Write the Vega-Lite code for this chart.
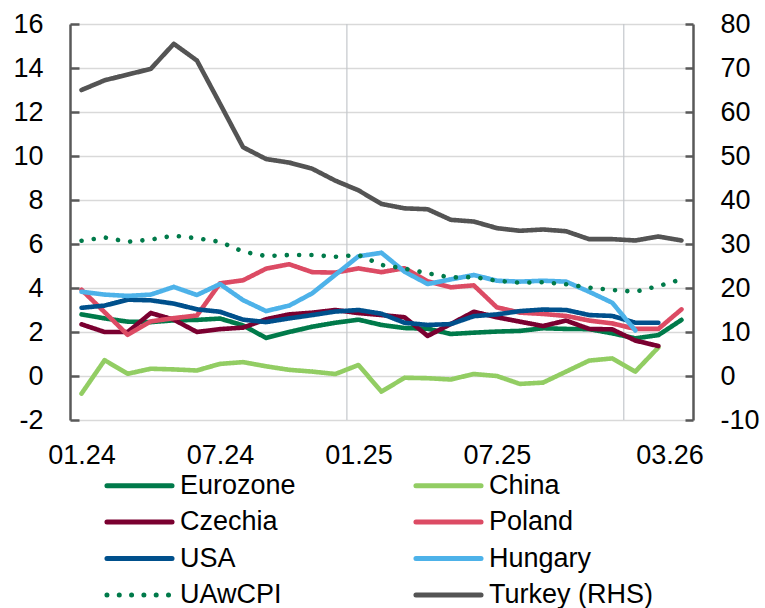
{
  "$schema": "https://vega.github.io/schema/vega-lite/v6.json",
  "autosize": "none",
  "width": 623,
  "height": 396,
  "padding": {"left": 70, "top": 24, "right": 72, "bottom": 188},
  "background": "white",
  "config": {
    "view": {"stroke": null},
    "font": "Liberation Sans",
    "axis": {"labelFont": "Liberation Sans", "labelFontSize": 27, "labelColor": "#000000", "title": null},
    "legend": {
      "orient": "none",
      "legendX": 56,
      "legendY": 448,
      "columns": 2,
      "columnPadding": 109,
      "rowPadding": 8.5,
      "padding": 0,
      "symbolType": "M-4.65,0H4.65",
      "symbolSize": 196,
      "symbolStrokeWidth": 5,
      "symbolOffset": 0,
      "labelOffset": 27,
      "labelFont": "Liberation Sans",
      "labelFontSize": 27,
      "labelColor": "#000000",
      "labelLimit": 400,
      "title": null
    }
  },
  "data": {
    "values": [
      {"i": 0, "month": "01.24", "Eurozone": 2.8, "China": -0.8, "Czechia": 2.35, "Poland": 3.92, "USA": 3.1, "Hungary": 3.83, "UAwCPI": 6.15, "Turkey (RHS)": 65.0},
      {"i": 1, "month": "02.24", "Eurozone": 2.62, "China": 0.72, "Czechia": 2.0, "Poland": 2.9, "USA": 3.2, "Hungary": 3.7, "UAwCPI": 6.3, "Turkey (RHS)": 67.2},
      {"i": 2, "month": "03.24", "Eurozone": 2.47, "China": 0.1, "Czechia": 2.0, "Poland": 1.87, "USA": 3.47, "Hungary": 3.64, "UAwCPI": 6.1, "Turkey (RHS)": 68.5},
      {"i": 3, "month": "04.24", "Eurozone": 2.45, "China": 0.33, "Czechia": 2.86, "Poland": 2.48, "USA": 3.44, "Hungary": 3.7, "UAwCPI": 6.2, "Turkey (RHS)": 69.8},
      {"i": 4, "month": "05.24", "Eurozone": 2.53, "China": 0.3, "Czechia": 2.56, "Poland": 2.63, "USA": 3.29, "Hungary": 4.05, "UAwCPI": 6.38, "Turkey (RHS)": 75.5},
      {"i": 5, "month": "06.24", "Eurozone": 2.55, "China": 0.25, "Czechia": 2.0, "Poland": 2.75, "USA": 3.03, "Hungary": 3.68, "UAwCPI": 6.26, "Turkey (RHS)": 71.7},
      {"i": 6, "month": "07.24", "Eurozone": 2.61, "China": 0.55, "Czechia": 2.13, "Poland": 4.21, "USA": 2.92, "Hungary": 4.18, "UAwCPI": 6.1, "Turkey (RHS)": 61.9},
      {"i": 7, "month": "08.24", "Eurozone": 2.3, "China": 0.63, "Czechia": 2.2, "Poland": 4.35, "USA": 2.56, "Hungary": 3.45, "UAwCPI": 5.65, "Turkey (RHS)": 52.0},
      {"i": 8, "month": "09.24", "Eurozone": 1.73, "China": 0.44, "Czechia": 2.58, "Poland": 4.88, "USA": 2.45, "Hungary": 2.95, "UAwCPI": 5.45, "Turkey (RHS)": 49.3},
      {"i": 9, "month": "10.24", "Eurozone": 2.0, "China": 0.28, "Czechia": 2.8, "Poland": 5.08, "USA": 2.62, "Hungary": 3.2, "UAwCPI": 5.5, "Turkey (RHS)": 48.5},
      {"i": 10, "month": "11.24", "Eurozone": 2.24, "China": 0.2, "Czechia": 2.88, "Poland": 4.72, "USA": 2.77, "Hungary": 3.76, "UAwCPI": 5.5, "Turkey (RHS)": 47.1},
      {"i": 11, "month": "12.24", "Eurozone": 2.42, "China": 0.09, "Czechia": 3.0, "Poland": 4.7, "USA": 2.93, "Hungary": 4.6, "UAwCPI": 5.42, "Turkey (RHS)": 44.4},
      {"i": 12, "month": "01.25", "Eurozone": 2.56, "China": 0.5, "Czechia": 2.86, "Poland": 4.89, "USA": 3.0, "Hungary": 5.44, "UAwCPI": 5.5, "Turkey (RHS)": 42.2},
      {"i": 13, "month": "02.25", "Eurozone": 2.32, "China": -0.71, "Czechia": 2.77, "Poland": 4.72, "USA": 2.83, "Hungary": 5.6, "UAwCPI": 5.05, "Turkey (RHS)": 39.1},
      {"i": 14, "month": "03.25", "Eurozone": 2.18, "China": -0.08, "Czechia": 2.67, "Poland": 4.9, "USA": 2.42, "Hungary": 4.74, "UAwCPI": 4.88, "Turkey (RHS)": 38.1},
      {"i": 15, "month": "04.25", "Eurozone": 2.15, "China": -0.1, "Czechia": 1.82, "Poland": 4.3, "USA": 2.32, "Hungary": 4.18, "UAwCPI": 4.67, "Turkey (RHS)": 37.9},
      {"i": 16, "month": "05.25", "Eurozone": 1.91, "China": -0.16, "Czechia": 2.36, "Poland": 4.03, "USA": 2.36, "Hungary": 4.39, "UAwCPI": 4.48, "Turkey (RHS)": 35.5},
      {"i": 17, "month": "06.25", "Eurozone": 1.97, "China": 0.09, "Czechia": 2.92, "Poland": 4.12, "USA": 2.72, "Hungary": 4.59, "UAwCPI": 4.5, "Turkey (RHS)": 35.1},
      {"i": 18, "month": "07.25", "Eurozone": 2.02, "China": 0.0, "Czechia": 2.67, "Poland": 3.12, "USA": 2.8, "Hungary": 4.33, "UAwCPI": 4.33, "Turkey (RHS)": 33.6},
      {"i": 19, "month": "08.25", "Eurozone": 2.05, "China": -0.36, "Czechia": 2.47, "Poland": 2.88, "USA": 2.95, "Hungary": 4.29, "UAwCPI": 4.24, "Turkey (RHS)": 33.0},
      {"i": 20, "month": "09.25", "Eurozone": 2.17, "China": -0.3, "Czechia": 2.27, "Poland": 2.82, "USA": 3.02, "Hungary": 4.33, "UAwCPI": 4.26, "Turkey (RHS)": 33.3},
      {"i": 21, "month": "10.25", "Eurozone": 2.14, "China": 0.2, "Czechia": 2.52, "Poland": 2.73, "USA": 3.0, "Hungary": 4.29, "UAwCPI": 4.17, "Turkey (RHS)": 32.9},
      {"i": 22, "month": "11.25", "Eurozone": 2.13, "China": 0.7, "Czechia": 2.14, "Poland": 2.52, "USA": 2.77, "Hungary": 3.83, "UAwCPI": 4.02, "Turkey (RHS)": 31.1},
      {"i": 23, "month": "12.25", "Eurozone": 1.94, "China": 0.8, "Czechia": 2.12, "Poland": 2.39, "USA": 2.73, "Hungary": 3.33, "UAwCPI": 3.91, "Turkey (RHS)": 31.1},
      {"i": 24, "month": "01.26", "Eurozone": 1.71, "China": 0.2, "Czechia": 1.61, "Poland": 2.14, "USA": 2.42, "Hungary": 2.07, "UAwCPI": 3.83, "Turkey (RHS)": 30.8},
      {"i": 25, "month": "02.26", "Eurozone": 1.86, "China": 1.3, "Czechia": 1.36, "Poland": 2.14, "USA": 2.42, "UAwCPI": 4.09, "Turkey (RHS)": 31.7},
      {"i": 26, "month": "03.26", "Eurozone": 2.55, "Poland": 3.03, "UAwCPI": 4.39, "Turkey (RHS)": 30.8}
    ]
  },
  "encoding": {
    "x": {
      "field": "i",
      "type": "quantitative",
      "scale": {"domain": [-0.5, 26.5], "nice": false, "zero": false},
      "axis": {
        "values": [0, 6, 12, 18, 26],
        "labelExpr": "(datum.value % 12 < 9 ? '0' : '') + (datum.value % 12 + 1) + '.' + (24 + floor(datum.value / 12))",
        "labelOffset": {"condition": {"test": "datum.value == 26", "value": -12}, "value": 0},
        "domain": false,
        "ticks": false,
        "grid": false,
        "labelPadding": 22,
        "labelFlush": false,
        "labelOverlap": false
      }
    }
  },
  "layer": [
    {
      "data": {"values": [{"boundary": 11.5, "between": "12.24/01.25"}, {"boundary": 23.5, "between": "12.25/01.26"}]},
      "mark": {"type": "rule", "color": "#C4C8CC", "strokeWidth": 1.2},
      "encoding": {"x": {"field": "boundary", "type": "quantitative"}}
    },
    {
      "layer": [
        {
          "data": {"values": [{"zero": 0}]},
          "mark": {"type": "rule", "color": "#595959", "strokeWidth": 2.5},
          "encoding": {"y": {"field": "zero", "type": "quantitative"}}
        },
        {
          "transform": [{"fold": ["Eurozone", "China", "Czechia", "Poland", "USA", "Hungary", "UAwCPI"], "as": ["series", "v"]}],
          "mark": {"type": "line", "strokeWidth": 4.6, "strokeCap": "round", "strokeJoin": "round"},
          "encoding": {
            "y": {
              "field": "v",
              "type": "quantitative",
              "scale": {"domain": [-2, 16], "nice": false, "zero": false},
              "axis": {
                "values": [-2, 0, 2, 4, 6, 8, 10, 12, 14, 16],
                "labelExpr": "'' + datum.value",
                "grid": true,
                "gridColor": "#D9D9D9",
                "gridWidth": 1.3,
                "domainColor": "#595959",
                "domainWidth": 2.5,
                "tickColor": "#595959",
                "tickWidth": 2.5,
                "tickSize": -9,
                "labelPadding": 36
              }
            },
            "color": {
              "field": "series",
              "type": "nominal",
              "scale": {
                "domain": ["Eurozone", "Czechia", "USA", "UAwCPI", "China", "Poland", "Hungary", "Turkey (RHS)"],
                "range": ["#007A4A", "#7A0030", "#00508C", "#007A4A", "#92CD63", "#DC4B64", "#4DB2E9", "#545454"]
              },
              "legend": {"encode": {"symbols": {"update": {"strokeCap": {"value": "round"}}}}}
            },
            "strokeDash": {
              "field": "series",
              "type": "nominal",
              "scale": {
                "domain": ["Eurozone", "Czechia", "USA", "UAwCPI", "China", "Poland", "Hungary", "Turkey (RHS)"],
                "range": [[1, 0], [1, 0], [1, 0], [0.01, 12.3], [1, 0], [1, 0], [1, 0], [1, 0]]
              }
            }
          }
        }
      ]
    },
    {
      "transform": [{"fold": ["Turkey (RHS)"], "as": ["series", "v"]}],
      "mark": {"type": "line", "strokeWidth": 4.6, "strokeCap": "round", "strokeJoin": "round"},
      "encoding": {
        "y": {
          "field": "v",
          "type": "quantitative",
          "scale": {"domain": [-10, 80], "nice": false, "zero": false},
          "axis": {
            "orient": "right",
            "values": [-10, 0, 10, 20, 30, 40, 50, 60, 70, 80],
            "labelExpr": "'' + datum.value",
            "grid": false,
            "domainColor": "#595959",
            "domainWidth": 2.5,
            "tickColor": "#595959",
            "tickWidth": 2.5,
            "tickSize": -8,
            "labelPadding": 35
          }
        },
        "color": {"field": "series", "type": "nominal"},
        "strokeDash": {"field": "series", "type": "nominal"}
      }
    }
  ],
  "resolve": {"scale": {"y": "independent"}}
}
